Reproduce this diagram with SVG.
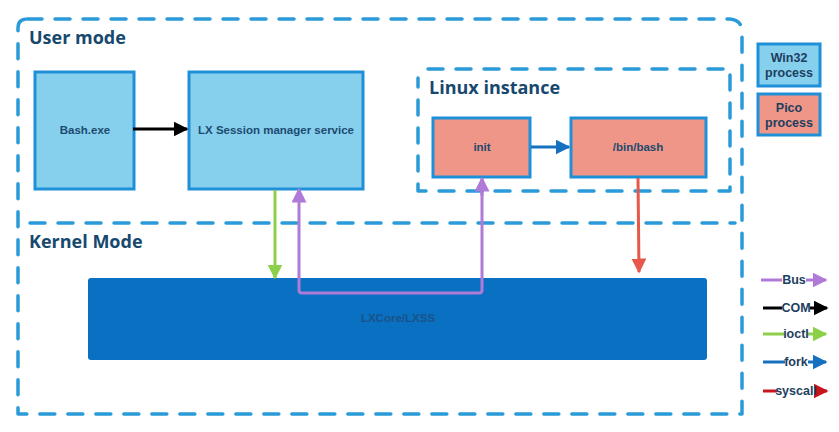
<svg xmlns="http://www.w3.org/2000/svg" width="839" height="432" viewBox="0 0 839 432">
<defs>
<style>
.dash{fill:none;stroke:#2a9ad8;stroke-width:3.5;stroke-dasharray:15 13;stroke-linecap:round;stroke-linejoin:round}
.title{font-family:"Open Sans","Liberation Sans",sans-serif;font-weight:bold;font-size:18px;fill:#17486e}
.lbl{font-family:"Liberation Sans",Arial,sans-serif;font-weight:bold;font-size:11.5px;fill:#1d4a6e;text-anchor:middle}
.win{fill:#86d0ee;stroke:#1e90d8;stroke-width:3}
.pico{fill:#f09689;stroke:#1e90d8;stroke-width:3}
.leg{font-family:"Liberation Sans",Arial,sans-serif;font-weight:bold;font-size:12.5px;fill:#1d3e5e;text-anchor:middle}
</style>
<marker id="mBlack" viewBox="0 0 10 10" refX="9" refY="5" markerWidth="5" markerHeight="5" orient="auto" markerUnits="strokeWidth"><path d="M0,0L10,5L0,10z" fill="#000"/></marker>
<marker id="mBlue" viewBox="0 0 10 10" refX="9" refY="5" markerWidth="5" markerHeight="5" orient="auto" markerUnits="strokeWidth"><path d="M0,0L10,5L0,10z" fill="#1670c0"/></marker>
<marker id="mGreen" viewBox="0 0 10 10" refX="9" refY="5" markerWidth="5" markerHeight="5" orient="auto" markerUnits="strokeWidth"><path d="M0,0L10,5L0,10z" fill="#8cd04a"/></marker>
<marker id="mPurple" viewBox="0 0 10 10" refX="9" refY="5" markerWidth="5" markerHeight="5" orient="auto" markerUnits="strokeWidth"><path d="M0,0L10,5L0,10z" fill="#b07ad8"/></marker>
<marker id="mRed" viewBox="0 0 10 10" refX="9" refY="5" markerWidth="5" markerHeight="5" orient="auto" markerUnits="strokeWidth"><path d="M0,0L10,5L0,10z" fill="#e8584a"/></marker>
<marker id="mDarkRed" viewBox="0 0 10 10" refX="9" refY="5" markerWidth="5" markerHeight="5" orient="auto" markerUnits="strokeWidth"><path d="M0,0L10,5L0,10z" fill="#c8141c"/></marker>
</defs>
<rect width="839" height="432" fill="#fff"/>

<g id="user-mode">
<path class="dash" d="M27,19 L730,19 Q742,20 742,32 L742,414 L18,414 L18,28 Q18,19 27,19"/>
<text class="title" x="29" y="44">User mode</text>
</g>
<g id="kernel-mode">
<path class="dash" d="M30,223 L735,223"/>
<text class="title" x="29" y="248">Kernel Mode</text>
</g>

<g id="bash-exe">
<rect class="win" x="35" y="72" width="99" height="117"/>
<text class="lbl" x="85" y="134">Bash.exe</text>
</g>
<g id="lx-session">
<rect class="win" x="189" y="72" width="174" height="117"/>
<text class="lbl" x="276" y="134">LX Session manager service</text>
</g>

<g id="linux-instance">
<path class="dash" d="M428,69 L730,69 L730,191 L418,191 L418,78"/>
<text class="title" x="429" y="94">Linux instance</text>
</g>
<g id="init">
<rect class="pico" x="433" y="118" width="97" height="59"/>
<text class="lbl" x="482" y="151">init</text>
</g>
<g id="bin-bash">
<rect class="pico" x="571" y="118" width="135" height="59"/>
<text class="lbl" x="638" y="151">/bin/bash</text>
</g>

<g id="lxcore">
<rect x="88" y="278" width="619" height="82" rx="3" fill="#0a70c2"/>
<text class="lbl" x="398" y="322" style="fill:#1a5288">LXCore/LXSS</text>
</g>

<g id="connectors">
<line x1="133" y1="129" x2="187" y2="129" stroke="#000" stroke-width="3" marker-end="url(#mBlack)"/>
<line x1="531" y1="147" x2="569" y2="147" stroke="#1670c0" stroke-width="3" marker-end="url(#mBlue)"/>
<line x1="275" y1="190" x2="275" y2="278" stroke="#8cd04a" stroke-width="3" marker-end="url(#mGreen)"/>
<path d="M482,180 L482,290 Q482,293 479,293 L302,293 Q299,293 299,290 L299,189" fill="none" stroke="#b07ad8" stroke-width="3" marker-end="url(#mPurple)"/>
<path d="M482,196 L482,178" fill="none" stroke="#b07ad8" stroke-width="3" marker-end="url(#mPurple)"/>
<line x1="638" y1="178" x2="639" y2="272" stroke="#e8584a" stroke-width="3" marker-end="url(#mRed)"/>
</g>

<g id="legend">
<g id="legend-win32">
<rect class="win" x="758" y="44" width="62" height="42"/>
<text class="leg" x="789" y="62">Win32</text>
<text class="leg" x="789" y="77">process</text>
</g>
<g id="legend-pico">
<rect class="pico" x="758" y="94" width="62" height="41"/>
<text class="leg" x="789" y="112">Pico</text>
<text class="leg" x="789" y="127">process</text>
</g>
<g id="legend-bus">
<line x1="761" y1="280" x2="782" y2="280" stroke="#b07ad8" stroke-width="3"/>
<line x1="806" y1="280" x2="826" y2="280" stroke="#b07ad8" stroke-width="3" marker-end="url(#mPurple)"/>
<text class="leg" x="794" y="284">Bus</text>
</g>
<g id="legend-com">
<line x1="763" y1="308" x2="782" y2="308" stroke="#000" stroke-width="3"/>
<line x1="810" y1="308" x2="827" y2="308" stroke="#000" stroke-width="3" marker-end="url(#mBlack)"/>
<text class="leg" x="796" y="312">COM</text>
</g>
<g id="legend-ioctl">
<line x1="763" y1="334" x2="784" y2="334" stroke="#8cd04a" stroke-width="3"/>
<line x1="808" y1="334" x2="826" y2="334" stroke="#8cd04a" stroke-width="3" marker-end="url(#mGreen)"/>
<text class="leg" x="796" y="338">ioctl</text>
</g>
<g id="legend-fork">
<line x1="763" y1="362" x2="785" y2="362" stroke="#1670c0" stroke-width="3"/>
<line x1="808" y1="362" x2="826" y2="362" stroke="#1670c0" stroke-width="3" marker-end="url(#mBlue)"/>
<text class="leg" x="796" y="366">fork</text>
</g>
<g id="legend-syscall">
<line x1="763" y1="391" x2="777" y2="391" stroke="#c8141c" stroke-width="3"/>
<line x1="815" y1="391" x2="827" y2="391" stroke="#c8141c" stroke-width="3" marker-end="url(#mDarkRed)"/>
<text class="leg" x="796" y="395">syscall</text>
</g>
</g>
</svg>
